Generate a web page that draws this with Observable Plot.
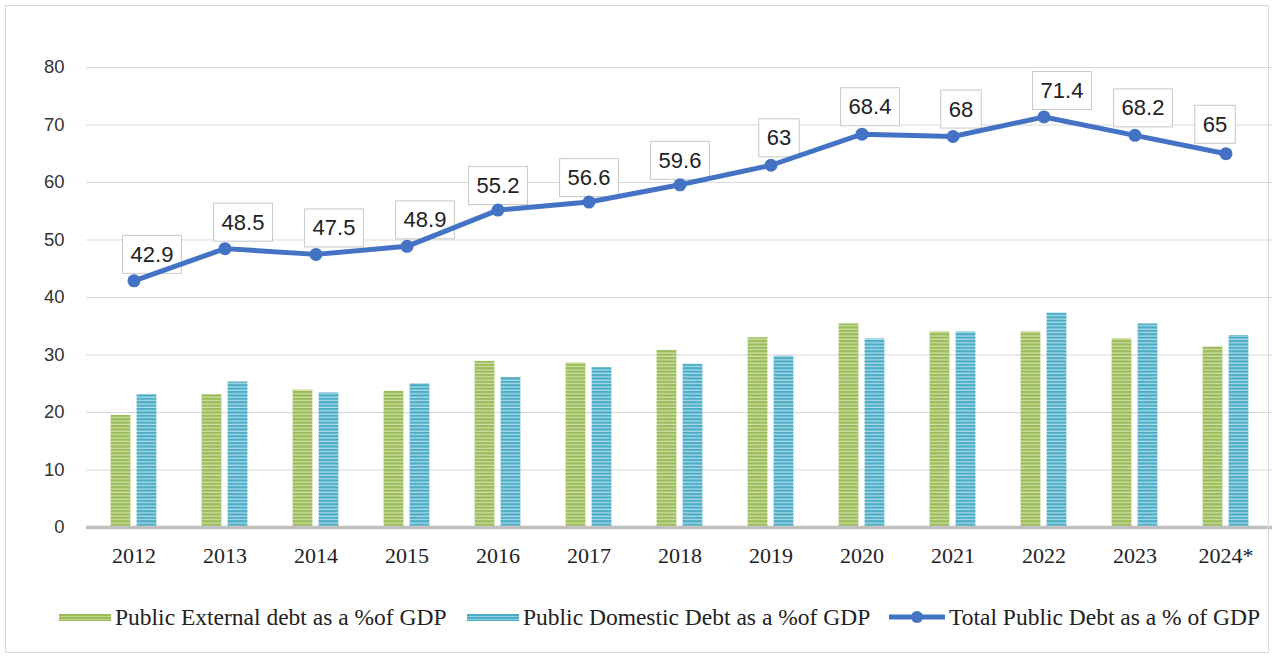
<!DOCTYPE html>
<html><head><meta charset="utf-8">
<script src="https://cdn.jsdelivr.net/npm/d3@7"></script>
<script src="https://cdn.jsdelivr.net/npm/@observablehq/plot@0.6"></script>
<style>
html,body{margin:0;padding:0;background:#fff}
body{width:1274px;height:657px;position:relative;overflow:hidden}
#frame{position:absolute;left:5px;top:5px;width:1264px;height:648px;border:1px solid #d9d9d9;box-sizing:border-box;pointer-events:none}
#chart{position:absolute;left:0;top:0}
.li{position:absolute;top:602px;height:30px;display:flex;align-items:center;font-family:"Liberation Serif",serif;font-size:23.5px;color:#222;white-space:nowrap}
.sw{width:52px;height:7px;margin-right:4px}
</style></head>
<body>
<div id="chart"></div>
<div id="frame"></div>
<div class="li" style="left:59px"><div class="sw" style="background:repeating-linear-gradient(#9bbb59 0 2px,#c3d88f 2px 3px)"></div><span id="l1"></span></div>
<div class="li" style="left:467px"><div class="sw" style="background:repeating-linear-gradient(#4bacc6 0 2px,#93cfe0 2px 3px)"></div><span id="l2"></span></div>
<div class="li" style="left:889px"><svg width="56" height="16" style="margin-right:4px"><line x1="0" x2="56" y1="8" y2="8" stroke="#4472c4" stroke-width="5"/><circle cx="28" cy="8" r="6" fill="#4472c4"/></svg><span id="l3"></span></div>
<script>
const years = ["2012","2013","2014","2015","2016","2017","2018","2019","2020","2021","2022","2023","2024*"];
const external = [19.5,23.1,23.9,23.7,28.9,28.6,30.8,33.0,35.4,34.0,34.0,32.8,31.4];
const domestic = [23.1,25.3,23.4,25.0,26.1,27.8,28.4,29.8,32.8,34.0,37.3,35.4,33.4];
const total = [42.9,48.5,47.5,48.9,55.2,56.6,59.6,63,68.4,68,71.4,68.2,65];
const yTicks = [0,10,20,30,40,50,60,70,80];
const seriesNames = ["Public External debt as a %of GDP","Public Domestic Debt as a %of GDP","Total Public Debt as a % of GDP"];

document.getElementById("l1").textContent = seriesNames[0];
document.getElementById("l2").textContent = seriesNames[1];
document.getElementById("l3").textContent = seriesNames[2];

const rows = years.map((year,i)=>({year, external:external[i], domestic:domestic[i], total:total[i]}));

const groupA = new Set(["2012","2013","2014","2015","2022"]);
const groupB = new Set(["2016","2017","2018"]);
const groupC = new Set(["2019","2020","2021","2023"]);
const labelFont = {fontSize:22, fontFamily:"'Liberation Sans', Arial, sans-serif", fill:"#222"};
const fmt = d => String(d.total);

const W = 1274, mL = 86, mR = 2;
const step = (W - mL - mR) / years.length;
const barW = 20;
const inset = (step - barW) / 2;

const svg = Plot.plot({
  width: W, height: 580,
  marginLeft: mL, marginRight: mR, marginTop: 67, marginBottom: 53,
  style: {background:"transparent", overflow:"visible"},
  x: {domain: years, padding: 0, label: null},
  y: {domain: [0,80], label: null},
  marks: [
    Plot.gridY(yTicks.filter(t=>t>0), {stroke:"#d9d9d9", strokeOpacity:1, strokeWidth:1}),
    Plot.barY(rows, {x:"year", y:"external", fill:"url(#pg)", insetLeft:inset, insetRight:inset, dx:-13}),
    Plot.barY(rows, {x:"year", y:"domestic", fill:"url(#pb)", insetLeft:inset, insetRight:inset, dx:13}),
    Plot.ruleY([0], {stroke:"#bfbfbf", strokeWidth:3.5}),
    Plot.text(rows.filter(d=>groupA.has(d.year)), {x:"year", y:"total", text:fmt, dx:18, dy:-26, ...labelFont}),
    Plot.text(rows.filter(d=>groupB.has(d.year)), {x:"year", y:"total", text:fmt, dx:0, dy:-24, ...labelFont}),
    Plot.text(rows.filter(d=>groupC.has(d.year)), {x:"year", y:"total", text:fmt, dx:8, dy:-27, ...labelFont}),
    Plot.text(rows.filter(d=>d.year==="2024*"), {x:"year", y:"total", text:fmt, dx:-11, dy:-29, ...labelFont}),
    Plot.lineY(rows, {x:"year", y:"total", stroke:"#4472c4", strokeWidth:5}),
    Plot.dot(rows, {x:"year", y:"total", r:6.5, fill:"#4472c4", stroke:null}),
    Plot.axisY({ticks: yTicks, tickSize:0, tickPadding:22, fontSize:18.5, fontFamily:"'Liberation Sans', Arial, sans-serif", fill:"#333", label:null}),
    Plot.axisX({tickSize:0, tickPadding:20, fontSize:22, fontFamily:"'Liberation Serif', serif", fill:"#222", label:null})
  ]
});

document.getElementById("chart").appendChild(svg);

const NS = "http://www.w3.org/2000/svg";
const defs = document.createElementNS(NS, "defs");
svg.insertBefore(defs, svg.firstChild);
function pat(id, base, light){
  const p = document.createElementNS(NS, "pattern");
  p.setAttribute("id", id); p.setAttribute("patternUnits","userSpaceOnUse");
  p.setAttribute("width", 4); p.setAttribute("height", 3.4);
  const r1 = document.createElementNS(NS, "rect");
  r1.setAttribute("width", 4); r1.setAttribute("height", 3.4); r1.setAttribute("fill", base);
  const r2 = document.createElementNS(NS, "rect");
  r2.setAttribute("y", 2.2); r2.setAttribute("width", 4); r2.setAttribute("height", 1.2); r2.setAttribute("fill", light);
  p.appendChild(r1); p.appendChild(r2); defs.appendChild(p);
}
pat("pg", "#9bbb59", "#d0e1aa");
pat("pb", "#4bacc6", "#b2dcea");

// white boxes behind value labels
const totalStrings = new Set(total.map(String));
const labelTexts = Array.from(svg.querySelectorAll("text")).filter(t => {
  const g = t.closest("g");
  const lab = g ? (g.getAttribute("aria-label") || "") : "";
  return !lab.includes("axis") && totalStrings.has(t.textContent.trim());
});
labelTexts.forEach(t => {
  const b = t.getBBox();
  const cy = b.y + b.height/2;
  const r = document.createElementNS(NS, "rect");
  r.setAttribute("x", b.x - 8); r.setAttribute("y", cy - 19);
  r.setAttribute("width", b.width + 16); r.setAttribute("height", 38);
  r.setAttribute("fill", "#fff"); r.setAttribute("stroke", "#c8c8c8"); r.setAttribute("stroke-width", 1);
  if (t.getAttribute("transform")) r.setAttribute("transform", t.getAttribute("transform"));
  t.parentNode.insertBefore(r, t);
});
</script>
</body></html>
